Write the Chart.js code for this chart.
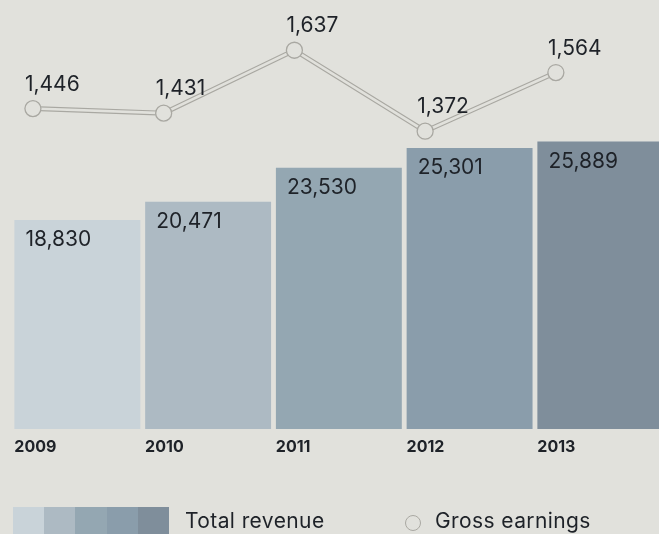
<!DOCTYPE html>
<html>
<head>
<meta charset="utf-8">
<script src="https://cdn.jsdelivr.net/npm/chart.js@4.4.0/dist/chart.umd.min.js"></script>
<style>
  html, body { margin: 0; padding: 0; background: #e1e1dc; overflow: hidden; }
  #wrap { position: relative; width: 675px; height: 534px; }
  .legend { position: absolute; top: 0; left: 0; font-family: Inter, sans-serif; color: #1e2228; font-size: 21px; letter-spacing: 0.4px; }
  .swatches { position: absolute; left: 13px; top: 507px; width: 156px; height: 30px; display: flex; }
  .swatches div { flex: 1; height: 30px; }
  .lbl { position: absolute; top: 509px; line-height: 24px; white-space: nowrap; }
  .dot { position: absolute; left: 405px; top: 515px; width: 14px; height: 14px; border: 1.3px solid #a9a8a2; border-radius: 50%; }
</style>
</head>
<body>
<div id="wrap">
  <canvas id="myChart" width="675" height="534"></canvas>
  <div class="legend">
    <div class="swatches" id="swatches"></div>
    <div class="lbl" style="left:185px">Total revenue</div>
    <div class="dot"></div>
    <div class="lbl" style="left:435px">Gross earnings</div>
  </div>
</div>
<script>
// data
var years = ["2009", "2010", "2011", "2012", "2013"];
var totalRevenue = [18830, 20471, 23530, 25301, 25889];
var grossEarnings = [1446, 1431, 1637, 1372, 1564];
var barColors = ["#c9d3d9", "#adbac3", "#94a7b2", "#8a9dab", "#7f8e9b"];

var bg = "#e1e1dc";
var lineGrey = "#a9a8a2";
var textColor = "#1e2228";

// legend swatches
var sw = document.getElementById("swatches");
for (var i = 0; i < barColors.length; i++) {
    var d = document.createElement("div");
    d.style.background = barColors[i];
    sw.appendChild(d);
}

var linePoints = grossEarnings.map(function (v, i) { return { x: i, y: v }; });

function fmt(v) { return v.toLocaleString("en-US"); }

// draws the value labels
var valueLabels = {
    id: "valueLabels",
    afterDatasetsDraw: function (chart) {
        var ctx = chart.ctx;
        ctx.save();
        ctx.fillStyle = textColor;
        ctx.font = "21px Inter, sans-serif";
        ctx.textAlign = "left";
        ctx.textBaseline = "alphabetic";
        chart.getDatasetMeta(0).data.forEach(function (el, i) {
            ctx.fillText(fmt(totalRevenue[i]), el.x - el.width / 2 + 11, el.y + 26);
        });
        chart.getDatasetMeta(2).data.forEach(function (el, i) {
            ctx.fillText(fmt(grossEarnings[i]), el.x - 8, el.y - 18);
        });
        ctx.restore();
    }
};

var chart = new Chart(document.getElementById("myChart").getContext("2d"), {
    type: "bar",
    data: {
        labels: years,
        datasets: [
            {
                label: "Total revenue",
                data: totalRevenue,
                backgroundColor: barColors,
                categoryPercentage: 0.963,
                barPercentage: 1,
                grouped: false,
                order: 3
            },
            {
                type: "line",
                label: "Gross earnings outline",
                data: linePoints,
                xAxisID: "x2",
                yAxisID: "y2",
                borderColor: lineGrey,
                borderWidth: 5,
                pointRadius: 0,
                order: 2
            },
            {
                type: "line",
                label: "Gross earnings",
                data: linePoints,
                xAxisID: "x2",
                yAxisID: "y2",
                borderColor: bg,
                borderWidth: 2.6,
                pointRadius: 8,
                pointBackgroundColor: bg,
                pointBorderColor: lineGrey,
                pointBorderWidth: 1.3,
                order: 1
            }
        ]
    },
    options: {
        responsive: false,
        animation: false,
        events: [],
        layout: { padding: { left: 12, right: 0, top: 0, bottom: 74 } },
        plugins: { legend: { display: false }, tooltip: { enabled: false } },
        scales: {
            x: {
                offset: true,
                grid: { display: false, drawTicks: false },
                border: { display: false },
                ticks: {
                    color: textColor,
                    font: { family: "Inter, sans-serif", size: 16, weight: "bold" },
                    align: "start",
                    labelOffset: -63,
                    padding: 9
                },
                afterFit: function (s) { s.height = 31; }
            },
            y: { display: false, min: 0, max: 37800 },
            x2: { type: "linear", display: false, offset: false, min: -0.16, max: 4.84 },
            y2: { display: false, min: 397, max: 1771 }
        }
    },
    plugins: [valueLabels]
});
</script>
</body>
</html>
